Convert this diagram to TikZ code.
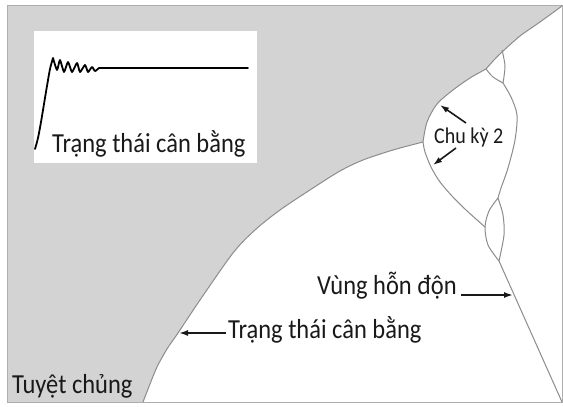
\documentclass[tikz,border=0pt]{standalone}
\usepackage{fontspec}
\setmainfont{Carlito}[FakeStretch=0.89]
\usetikzlibrary{arrows.meta}
\definecolor{bgGray}{RGB}{211,211,211}
\definecolor{lineGray}{RGB}{140,140,140}
\definecolor{txt}{RGB}{25,25,25}
\begin{document}
\begin{tikzpicture}[x=1pt,y=-1pt,
  curve/.style={draw=lineGray, line width=1pt, line join=round},
  lbl/.style={anchor=base west, inner sep=0pt, text=txt, font=\fontsize{27.5}{30}\selectfont},
  small/.style={font=\fontsize{22.5}{26}\selectfont},
  arr/.style={draw=txt, line width=1.6pt, -{Latex[length=9pt,width=6pt]}}]
\useasboundingbox (0,0) rectangle (563,407);
\fill[white] (0,0) rectangle (563,407);
\fill[bgGray] (7,5) rectangle (562,402);
% white region
\fill[white] plot[smooth] coordinates {(143,402) (150,384) (157,367) (167,349) (178,333) (200,300) (233,253) (255,230) (280,210) (313,188) (340,171) (363,160) (393,150) (423,142)}
  -- plot[smooth] coordinates {(423,142) (427,122) (437,104) (453,90) (470,78) (486,69)}
  -- plot[smooth] coordinates {(486,69) (494,60) (502,52)}
  -- plot[smooth] coordinates {(502,52) (520,36) (540,22) (562,6)}
  -- (562,402) -- cycle;
\draw[lineGray!70, line width=0.6pt] (7,5) rectangle (562,402);
% boundary curves
\draw[curve] plot[smooth] coordinates {(143,402) (150,384) (157,367) (167,349) (178,333) (200,300) (233,253) (255,230) (280,210) (313,188) (340,171) (363,160) (393,150) (423,142)};
\draw[curve] plot[smooth] coordinates {(423,142) (427,122) (437,104) (453,90) (470,78) (486,69)};
\draw[curve] plot[smooth] coordinates {(486,69) (494,60) (502,52)};
\draw[curve] plot[smooth] coordinates {(502,52) (520,36) (540,22) (562,6)};
% small top loop
\draw[curve] plot[smooth] coordinates {(486,69) (493,77) (503,83)};
\draw[curve] plot[smooth] coordinates {(502,50) (505,66) (503,83)};
% big loop
\draw[curve] plot[smooth] coordinates {(423,142) (425,152) (431,167) (440,182) (452,196) (466,210) (485,227)};
\draw[curve] plot[smooth] coordinates {(503,83) (511,97) (517,115) (515,140) (508,168) (501,188) (498,198)};
% lower small loop
\draw[curve] plot[smooth] coordinates {(498,198) (489,211) (485,227) (488,245) (499,261)};
\draw[curve] plot[smooth] coordinates {(498,198) (503,215) (504,235) (499,261)};
% chaotic line
\draw[curve] (499,261) -- (562,402);
% inset
\fill[white] (34,31) rectangle (257,163);
\draw[black, line width=1.8pt, line join=round, line cap=round]
  plot[smooth] coordinates {(35,149) (38,138) (41,122) (44,104) (47,86) (50,69) (53,58)}
  -- plot[smooth, tension=0.35] coordinates {(53,58) (57,70) (60,60) (64,72) (68,62) (72,72) (77,63) (80,72) (85,65) (88,72) (92,67) (95,71) (99,68)}
  -- (248,68);
% labels
\node[lbl] (inlbl) at (52,152) {Trạng thái cân bằng};
\node[lbl] (ext) at (12,393) {Tuyệt chủng};
\node[lbl] (eq) at (228,338) {Trạng thái cân bằng};
\node[lbl] (chaos) at (317,294) {Vùng hỗn độn};
\node[lbl, small] (c2) at (434,143) {Chu kỳ 2};
% arrow targets
\coordinate (eqpt) at (179,333);
\coordinate (chpt) at (513,295);
\coordinate (c2up) at (440,105);
\coordinate (c2dn) at (433,165);
\coordinate (c2upt) at (466,123);
\coordinate (c2dnt) at (456,148);
\draw[arr] ([shift={(-2,-5)}]eq.base west) -- (eqpt);
\draw[arr] ([shift={(4,1)}]chaos.base east) -- (chpt);
\draw[arr] (c2upt) -- (c2up);
\draw[arr] (c2dnt) -- (c2dn);
\end{tikzpicture}
\end{document}
